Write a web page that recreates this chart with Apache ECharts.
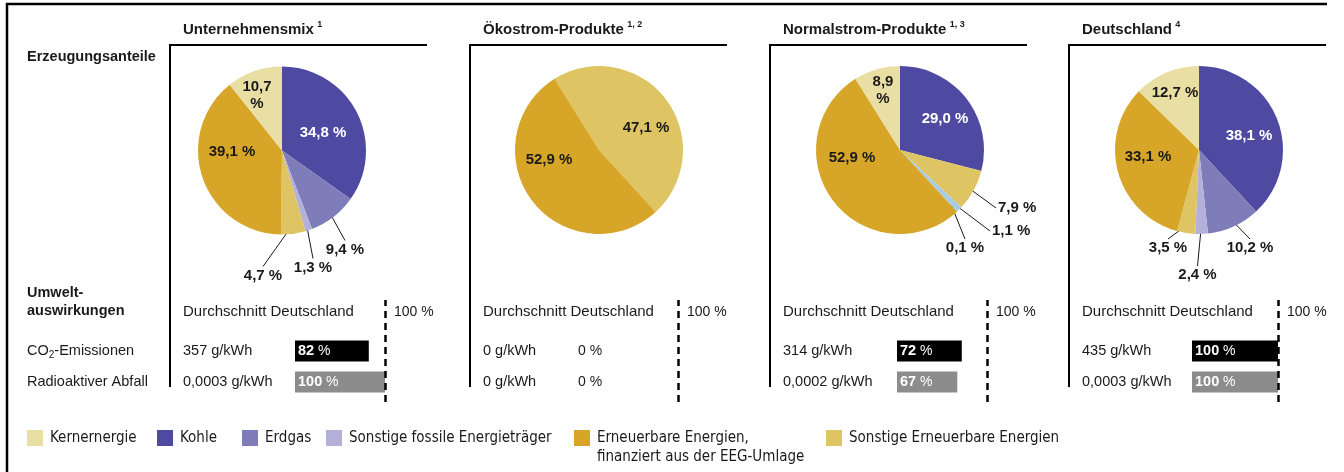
<!DOCTYPE html>
<html>
<head>
<meta charset="utf-8">
<script src="https://cdn.jsdelivr.net/npm/echarts@6/dist/echarts.min.js"></script>
<style>
  html, body { margin: 0; padding: 0; background: #fff; }
  #chart { width: 1344px; height: 472px; }
</style>
</head>
<body>
<div id="chart"></div>
<script>
// Energietraeger
const KERN = 'Kernernergie'
const KOHLE = 'Kohle'
const ERDGAS = 'Erdgas'
const FOSSIL = 'Sonstige fossile Energieträger'
const EEG = 'Erneuerbare Energien, finanziert aus der EEG-Umlage'
const SONST_EE = 'Sonstige Erneuerbare Energien'

const legendNames = [KERN, KOHLE, ERDGAS, FOSSIL, EEG, SONST_EE]

const panelTitles = ['Unternehmensmix', 'Ökostrom-Produkte', 'Normalstrom-Produkte', 'Deutschland']
const panelNotes = ['1', '1, 2', '1, 3', '4']

// Erzeugungsanteile in %, im Uhrzeigersinn
const unternehmenNames = [KOHLE, ERDGAS, FOSSIL, SONST_EE, EEG, KERN]
const unternehmenValues = [34.8, 9.4, 1.3, 4.7, 39.1, 10.7]
const oekoNames = [SONST_EE, EEG]
const oekoValues = [47.1, 52.9]
const normalNames = [KOHLE, SONST_EE, ERDGAS, FOSSIL, EEG, KERN]
const normalValues = [29.0, 7.9, 1.1, 0.1, 52.9, 8.9]
const deutschNames = [KOHLE, ERDGAS, FOSSIL, SONST_EE, EEG, KERN]
const deutschValues = [38.1, 10.2, 2.4, 3.5, 33.1, 12.7]

// Umweltauswirkungen
const co2Labels = ['357 g/kWh', '0 g/kWh', '314 g/kWh', '435 g/kWh']
const co2Percent = [82, 0, 72, 100]
const abfallLabels = ['0,0003 g/kWh', '0 g/kWh', '0,0002 g/kWh', '0,0003 g/kWh']
const abfallPercent = [100, 0, 67, 100]

const pieNames = [unternehmenNames, oekoNames, normalNames, deutschNames]
const pieValues = [unternehmenValues, oekoValues, normalValues, deutschValues]

// layout
const panelLeft = [170, 470, 770, 1069]
const pieCenter = [[282, 150.5], [599, 150], [900, 150], [1199, 150]]
const pieStart = [90, 122, 90, 90]
const barLeft = [295, 575, 897, 1192]
const barWidth = [90, 103, 90, 86]
const legendLeft = [27, 157, 242, 326, 574, 826]

// Beschriftung relativ zum Kreismittelpunkt: [dx, dy, Art]
const labelPos = [
  [[41, -18, 'in'], [63, 99, 'below'], [31, 117, 'below'], [-19, 125, 'below'], [-50, 1, 'in'], [-25, -55, 'in']],
  [[47, -22, 'in'], [-50, 10, 'in']],
  [[45, -31, 'in'], [98, 58, 'right'], [92, 81, 'right'], [65, 98, 'below'], [-48, 8, 'in'], [-17, -60, 'in']],
  [[50, -14, 'in'], [51, 98, 'below'], [-1.5, 125, 'below'], [-31, 98, 'below'], [-51, 7, 'in'], [-24, -57, 'in']]
]

const colors = {}
colors[KERN] = '#e9dfa5'
colors[KOHLE] = '#4f4aa1'
colors[ERDGAS] = '#7f7db9'
colors[FOSSIL] = '#b3b1d9'
colors[EEG] = '#d7a628'
colors[SONST_EE] = '#dec462'
// hellblaues Segment bei Normalstrom
const colorOverride = { '2-2': '#a6cde3' }

const FONT = '"Liberation Sans", Arial, sans-serif'
const NARROW = '"Liberation Sans Narrow", "DejaVu Sans Condensed", sans-serif'
const INK = '#1a1a1a'

function pct (v) {
  return v.toFixed(1).replace('.', ',') + ' %'
}

const chart = echarts.init(document.getElementById('chart'), null, { renderer: 'canvas' })

const grid = []
const xAxis = []
const yAxis = []
const series = []
const graphic = []

pieNames.forEach((names, i) => {
  const c = pieCenter[i]
  series.push({
    type: 'pie',
    center: c,
    radius: 84,
    startAngle: pieStart[i],
    clockwise: true,
    animation: false,
    silent: true,
    avoidLabelOverlap: false,
    label: {
      position: 'inside',
      fontFamily: FONT,
      fontSize: 15,
      fontWeight: 'bold',
      color: INK,
      lineHeight: 17,
      formatter: p => (p.name === KERN && p.value < 12) ? p.value.toFixed(1).replace('.', ',') + '\n%' : pct(p.value)
    },
    labelLine: {
      show: false,
      length: 24,
      length2: 0,
      lineStyle: { color: INK, width: 1 }
    },
    labelLayout: params => {
      const cfg = labelPos[i][params.dataIndex]
      const x = c[0] + cfg[0]
      const y = c[1] + cfg[1]
      if (cfg[2] === 'in') {
        return { x: x, y: y, align: 'center', verticalAlign: 'middle' }
      }
      const p0 = params.labelLinePoints[0]
      const start = [c[0] + (p0[0] - c[0]) * 0.9, c[1] + (p0[1] - c[1]) * 0.9]
      if (cfg[2] === 'right') {
        return { x: x, y: y, align: 'left', verticalAlign: 'middle', labelLinePoints: [start, [x - 2, y], [x - 2, y]] }
      }
      return { x: x, y: y, align: 'center', verticalAlign: 'middle', labelLinePoints: [start, [x, y - 9], [x, y - 9]] }
    },
    data: names.map((n, k) => {
      const item = {
        name: n,
        value: pieValues[i][k],
        itemStyle: { color: colorOverride[i + '-' + k] || colors[n] }
      }
      if (labelPos[i][k][2] !== 'in') {
        item.label = { position: 'outside' }
        item.labelLine = { show: true }
      } else if (n === KOHLE) {
        item.label = { color: '#fff' }
      }
      return item
    })
  })
})

panelLeft.forEach((left, i) => {
  // Balken
  grid.push({ left: barLeft[i], width: barWidth[i], top: 335.5, height: 62 })
  xAxis.push({ type: 'value', gridIndex: i, min: 0, max: 100, show: false })
  yAxis.push({
    type: 'category',
    gridIndex: i,
    inverse: true,
    data: [co2Labels[i], abfallLabels[i]],
    axisLine: { show: false },
    axisTick: { show: false },
    axisLabel: {
      align: 'left',
      margin: barLeft[i] - (left + 13),
      fontFamily: FONT,
      fontSize: 14.5,
      color: INK
    }
  })
  series.push({
    type: 'bar',
    xAxisIndex: i,
    yAxisIndex: i,
    barWidth: 21,
    animation: false,
    silent: true,
    data: [
      { value: co2Percent[i], itemStyle: { color: '#000' } },
      { value: abfallPercent[i], itemStyle: { color: '#8c8c8c' } }
    ],
    label: {
      show: true,
      position: 'insideLeft',
      distance: 3,
      fontFamily: FONT,
      fontSize: 14,
      formatter: p => p.value ? '{b|' + p.value + '} {r|%}' : '{z|0 %}',
      rich: {
        b: { color: '#fff', fontWeight: 'bold', fontSize: 14.5, fontFamily: FONT },
        r: { color: '#fff', fontSize: 14, fontFamily: FONT },
        z: { color: INK, fontSize: 14, fontFamily: FONT }
      }
    }
  })
})

panelLeft.forEach((left, i) => {
  // 100 %-Linie
  grid.push({ left: barLeft[i], width: barWidth[i], top: 300, height: 102 })
  xAxis.push({ type: 'value', gridIndex: 4 + i, min: 0, max: 100, show: false })
  yAxis.push({ type: 'value', gridIndex: 4 + i, min: 0, max: 1, show: false })
  series.push({
    type: 'line',
    xAxisIndex: 4 + i,
    yAxisIndex: 4 + i,
    data: [],
    animation: false,
    markLine: {
      silent: true,
      symbol: 'none',
      animation: false,
      label: { show: false },
      lineStyle: { color: '#000', width: 2.5, type: [7, 5] },
      data: [{ xAxis: 100 }]
    }
  })

  // Rahmen des Panels
  graphic.push({
    type: 'polyline',
    silent: true,
    shape: { points: [[left + 257, 45], [left, 45], [left, 387]] },
    style: { stroke: '#000', lineWidth: 2, fill: null }
  })
  graphic.push({
    type: 'text',
    silent: true,
    style: {
      text: '{t|' + panelTitles[i] + '} {s|' + panelNotes[i] + '}',
      x: left + 13,
      y: 30,
      verticalAlign: 'middle',
      textVerticalAlign: 'middle',
      rich: {
        t: { fontFamily: FONT, fontSize: 15, fontWeight: 'bold', fill: INK, lineHeight: 20 },
        s: { fontFamily: FONT, fontSize: 9, fontWeight: 'bold', fill: INK, verticalAlign: 'top', lineHeight: 20 }
      }
    }
  })
  graphic.push({
    type: 'text',
    silent: true,
    style: {
      text: 'Durchschnitt Deutschland',
      x: left + 13,
      y: 312,
      font: '15px ' + FONT,
      fill: INK,
      verticalAlign: 'middle',
      textVerticalAlign: 'middle'
    }
  })
  graphic.push({
    type: 'text',
    silent: true,
    style: {
      text: '100 %',
      x: barLeft[i] + barWidth[i] + 9,
      y: 312,
      font: '14px ' + FONT,
      fill: INK,
      verticalAlign: 'middle',
      textVerticalAlign: 'middle'
    }
  })
})

// Aeusserer Rahmen
graphic.push({
  type: 'polyline',
  silent: true,
  shape: { points: [[1327, 4], [7, 4], [7, 472]] },
  style: { stroke: '#000', lineWidth: 2.5, fill: null }
})

const rowLabels = [
  { text: 'Erzeugungsanteile', y: 57, bold: true },
  { text: 'Umwelt-', y: 293, bold: true },
  { text: 'auswirkungen', y: 311, bold: true },
  { text: 'Radioaktiver Abfall', y: 382, bold: false }
]
rowLabels.forEach(r => {
  graphic.push({
    type: 'text',
    silent: true,
    style: {
      text: r.text,
      x: 27,
      y: r.y,
      font: (r.bold ? 'bold ' : '') + '14.5px ' + FONT,
      fill: INK,
      verticalAlign: 'middle',
      textVerticalAlign: 'middle'
    }
  })
})
graphic.push({
  type: 'text',
  silent: true,
  style: {
    text: '{n|CO}{u|2}{n|-Emissionen}',
    x: 27,
    y: 351,
    verticalAlign: 'middle',
    textVerticalAlign: 'middle',
    rich: {
      n: { fontFamily: FONT, fontSize: 14.5, fill: INK, lineHeight: 18 },
      u: { fontFamily: FONT, fontSize: 10, fill: INK, verticalAlign: 'bottom', lineHeight: 18 }
    }
  }
})

// EEG-Eintrag zweizeilig, erste Zeile auf Hoehe des Kaestchens
const legend = legendNames.map((name, i) => ({
  data: [name],
  left: legendLeft[i],
  top: name === EEG ? 409.5 : 428.5,
  padding: 0,
  icon: 'rect',
  itemWidth: 16,
  itemHeight: 16,
  selectedMode: false,
  formatter: n => n === EEG ? ' \nErneuerbare Energien,\nfinanziert aus der EEG-Umlage' : n,
  textStyle: {
    fontFamily: NARROW,
    fontSize: 15,
    color: INK,
    lineHeight: 19,
    padding: [0, 0, 0, 2]
  }
}))

chart.setOption({
  backgroundColor: '#fff',
  animation: false,
  legend: legend,
  grid: grid,
  xAxis: xAxis,
  yAxis: yAxis,
  graphic: graphic,
  series: series
})
</script>
</body>
</html>
